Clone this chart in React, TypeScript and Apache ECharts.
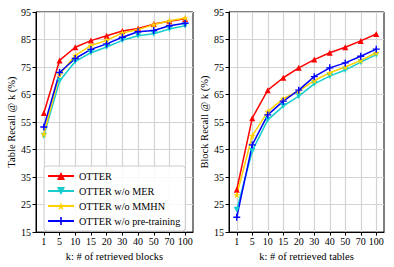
import React, { useEffect, useRef } from "react";
import * as echarts from "echarts";

const categories = ["1", "5", "10", "15", "20", "30", "40", "50", "70", "100"];
const seriesNames = ["OTTER", "OTTER w/o MER", "OTTER w/o MMHN", "OTTER w/o pre-training"];

// Left: Table Recall @ k (%)
const tableOtter = [58.3, 77.4, 82.2, 84.6, 86.4, 88.1, 89.0, 90.6, 91.6, 92.5];
const tableNoMER = [50.0, 69.9, 77.0, 80.2, 82.3, 84.7, 86.4, 87.1, 88.8, 90.0];
const tableNoMMHN = [50.6, 72.3, 79.2, 82.8, 84.7, 87.4, 88.6, 90.4, 91.8, 92.8];
const tableNoPre = [53.2, 73.0, 78.1, 81.4, 83.4, 85.8, 87.8, 88.3, 90.0, 90.9];

// Right: Block Recall @ k (%)
const blockOtter = [30.4, 56.4, 66.6, 71.1, 74.7, 77.7, 80.2, 82.2, 84.5, 87.0];
const blockNoMER = [23.1, 44.5, 55.8, 60.8, 64.4, 68.9, 71.7, 73.9, 76.8, 79.5];
const blockNoMMHN = [28.5, 50.0, 58.8, 63.5, 66.3, 70.1, 72.9, 75.0, 77.4, 80.2];
const blockNoPre = [20.4, 46.7, 57.6, 62.6, 66.6, 71.5, 74.7, 76.5, 78.9, 81.5];

const yMin = 15;
const yMax = 95;
const yStep = 10;

const colors = ["#ff0000", "#17cccc", "#ffd000", "#0000ff"];
const STAR = "path://M50,0L61,35L98,35L68,57L79,91L50,70L21,91L32,57L2,35L39,35Z";
const PLUS = "path://M4,0H6V4H10V6H6V10H4V6H0V4H4Z";
const symbols = ["triangle", "triangle", STAR, PLUS];
const rotates = [0, 180, 0, 0];
const sizes = [6, 6, 7, 7];

const FONT = "Liberation Serif";

export default function App() {
  const ref = useRef<HTMLDivElement>(null);
  useEffect(() => {
    if (!ref.current) return;
    const chart = echarts.init(ref.current, undefined, { renderer: "svg" });
    const grids = [
      { left: 36, top: 12, width: 157, height: 221 },
      { left: 229, top: 12, width: 155, height: 221 },
    ];
    const xNames = ["k: # of retrieved blocks", "k: # of retrieved tables"];
    const yNames = ["Table Recall @ k (%)", "Block Recall @ k (%)"];
    const data = [
      [tableOtter, tableNoMER, tableNoMMHN, tableNoPre],
      [blockOtter, blockNoMER, blockNoMMHN, blockNoPre],
    ];
    const xAxis = [0, 1].map((i) => ({
      type: "category",
      gridIndex: i,
      data: categories,
      boundaryGap: true,
      name: xNames[i],
      nameLocation: "middle",
      nameGap: 14,
      nameTextStyle: { fontFamily: FONT, fontSize: 10.5, color: "#000", verticalAlign: "top" },
      axisLine: { show: true, lineStyle: { color: "#000", width: 1 } },
      axisTick: { show: true, alignWithLabel: true, length: 3.5, lineStyle: { color: "#000" } },
      axisLabel: { interval: 0, margin: 4, fontFamily: FONT, fontSize: 10, color: "#000" },
      splitLine: { show: true, alignWithLabel: true, lineStyle: { color: "#d3d3d3", width: 1.2 } },
    }));
    const yAxis = [0, 1].map((i) => ({
      type: "value",
      gridIndex: i,
      min: yMin,
      max: yMax,
      interval: yStep,
      name: yNames[i],
      nameLocation: "middle",
      nameGap: 19,
      nameTextStyle: { fontFamily: FONT, fontSize: 10.5, color: "#000" },
      axisLine: { show: true, lineStyle: { color: "#000", width: 1 } },
      axisTick: { show: true, length: 3.5, lineStyle: { color: "#000" } },
      axisLabel: { margin: 5, fontFamily: FONT, fontSize: 10, color: "#000" },
      splitLine: { show: true, lineStyle: { color: "#d3d3d3", width: 1.2 } },
    }));
    const series: any[] = [];
    [0, 1].forEach((g) => {
      seriesNames.forEach((name, s) => {
        series.push({
          type: "line",
          name,
          xAxisIndex: g,
          yAxisIndex: g,
          data: data[g][s],
          symbol: symbols[s],
          symbolRotate: rotates[s],
          symbolSize: sizes[s],
          showAllSymbol: true,
          lineStyle: { color: colors[s], width: 1.5 },
          itemStyle: { color: colors[s] },
          emphasis: { disabled: true },
        });
      });
    });
    chart.setOption({
      animation: false,
      textStyle: { fontFamily: FONT },
      grid: grids.map((g) => ({ ...g, show: true, borderColor: "#000", borderWidth: 1, backgroundColor: "transparent" })),
      xAxis,
      yAxis,
      legend: {
        data: seriesNames,
        orient: "vertical",
        left: 44,
        top: 166,
        padding: [5, 5, 5, 3],
        itemWidth: 26,
        itemHeight: 10,
        itemGap: 5,
        backgroundColor: "rgba(255,255,255,0.85)",
        borderColor: "#cccccc",
        borderWidth: 1,
        borderRadius: 3,
        textStyle: { fontFamily: FONT, fontSize: 10.2, color: "#000", lineHeight: 10 },
      },
      series,
    });
    return () => chart.dispose();
  }, []);
  return (
    <div
      ref={ref}
      style={{ position: "absolute", left: 0, top: 0, width: 394, height: 267, background: "#fff" }}
    />
  );
}
